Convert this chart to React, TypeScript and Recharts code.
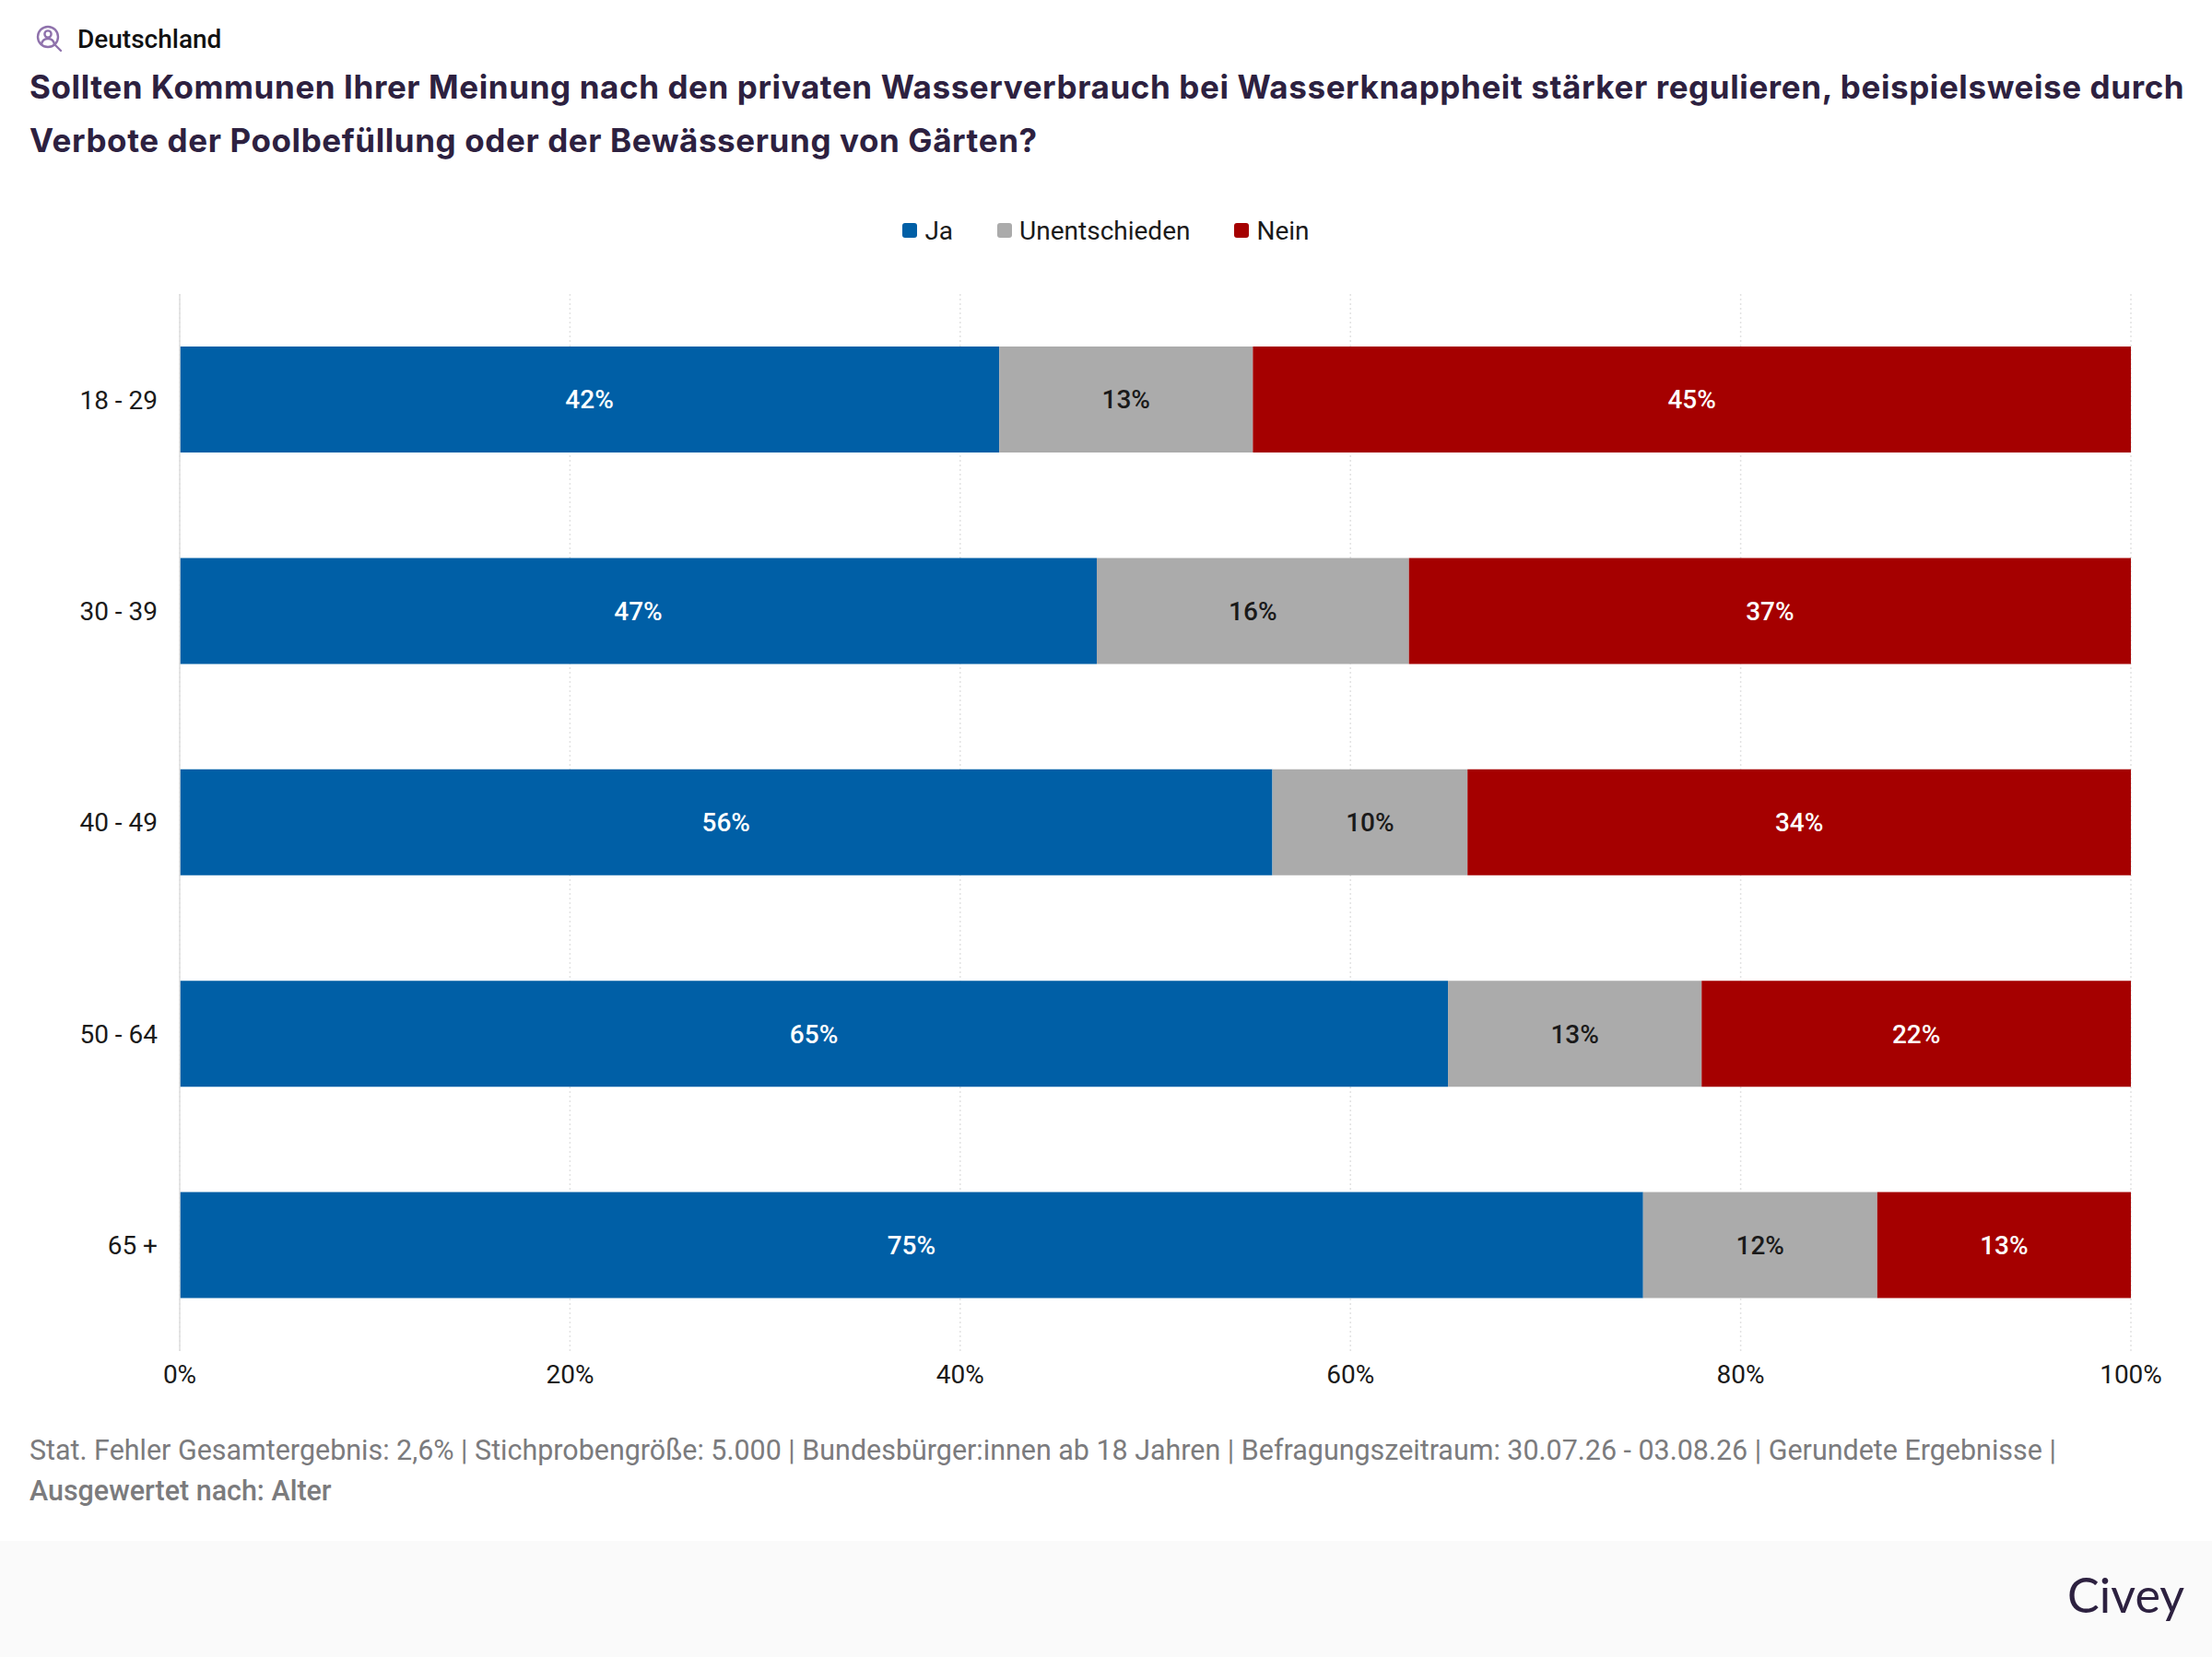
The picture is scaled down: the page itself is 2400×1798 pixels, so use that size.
import React from "react";
import { BarChart, Bar, XAxis, YAxis, CartesianGrid, Legend, LabelList } from "recharts";

const categories = ["18 - 29", "30 - 39", "40 - 49", "50 - 64", "65 +"];
const ja = [42, 47, 56, 65, 75];
const unentschieden = [13, 16, 10, 13, 12];
const nein = [45, 37, 34, 22, 13];
const xTicks = [0, 20, 40, 60, 80, 100];

const data = categories.map((c, i) => ({ c, ja: ja[i], un: unentschieden[i], nein: nein[i] }));

const ROBOTO = "Roboto, sans-serif";
const pct = (v: any) => `${v}%`;

const LegendContent = ({ payload }: any) => (
  <div style={{ height: 108, boxSizing: "border-box", paddingBottom: 30, paddingRight: 7, display: "flex", justifyContent: "center", alignItems: "center", gap: 48, fontFamily: ROBOTO, fontSize: 28, color: "#1a1a1a" }}>
    {(payload || []).map((p: any) => (
      <div key={p.value} style={{ display: "flex", alignItems: "center", gap: 8 }}>
        <span style={{ width: 16, height: 16, borderRadius: 3, background: p.color, display: "inline-block" }} />
        <span>{p.value}</span>
      </div>
    ))}
  </div>
);

const abs = (o: any): any => ({ position: "absolute", whiteSpace: "nowrap", ...o });

export default function App() {
  const tick = { fontFamily: ROBOTO, fontSize: 28, fill: "#1a1a1a" };
  const label = { fontFamily: ROBOTO, fontSize: 28, fontWeight: 500 };
  return (
    <div style={{ position: "absolute", left: 0, top: 0, width: 2400, height: 1798, background: "#fff", overflow: "hidden" }}>
      <svg style={abs({ left: 38, top: 27 })} width="32" height="32" viewBox="0 0 32 32" fill="none" stroke="#8f72ac" strokeWidth="2.4">
        <circle cx="14" cy="13" r="11" />
        <circle cx="14" cy="10" r="3.6" />
        <path d="M7 21c1-5 4-6 7-6s6 1 7 6" />
        <path d="M22 22l6 6" strokeLinecap="round" />
      </svg>
      <div style={abs({ left: 84, top: 25, lineHeight: "36px", fontFamily: ROBOTO, fontSize: 28, fontWeight: 500, color: "#111" })}>Deutschland</div>
      <div style={abs({ left: 32, top: 64.5, lineHeight: "58px", fontFamily: "Inter, sans-serif", fontSize: 35, fontWeight: 700, letterSpacing: 0.6, color: "#2d2140" })}>
        Sollten Kommunen Ihrer Meinung nach den privaten Wasserverbrauch bei Wasserknappheit stärker regulieren, beispielsweise durch
        <br />
        Verbote der Poolbefüllung oder der Bewässerung von Gärten?
      </div>
      <div style={abs({ left: 0, top: 211 })}>
        <BarChart width={2400} height={1315} data={data} layout="vertical" margin={{ top: 0, right: 88, bottom: 0, left: 95 }} barSize={115}>
          <CartesianGrid horizontal={false} stroke="#e2e2e2" strokeWidth={1.5} strokeDasharray="2 3" />
          <XAxis type="number" domain={[0, 100]} ticks={xTicks} tickFormatter={pct} axisLine={false} tickLine={false} tickSize={0} tickMargin={15} height={60} tick={tick} interval={0} />
          <YAxis type="category" dataKey="c" width={100} axisLine={{ stroke: "#dedede", strokeWidth: 1.5 }} tickLine={false} tickSize={0} tickMargin={24} tick={tick} />
          <Legend verticalAlign="top" align="center" itemSorter={null} content={<LegendContent />} />
          <Bar dataKey="ja" name="Ja" stackId="a" fill="#005fa6" isAnimationActive={false}>
            <LabelList dataKey="ja" position="center" formatter={pct} fill="#ffffff" style={label} />
          </Bar>
          <Bar dataKey="un" name="Unentschieden" stackId="a" fill="#ababab" isAnimationActive={false}>
            <LabelList dataKey="un" position="center" formatter={pct} fill="#1a1a1a" style={label} />
          </Bar>
          <Bar dataKey="nein" name="Nein" stackId="a" fill="#a50000" isAnimationActive={false}>
            <LabelList dataKey="nein" position="center" formatter={pct} fill="#ffffff" style={label} />
          </Bar>
        </BarChart>
      </div>
      <div style={abs({ left: 32, top: 1552, lineHeight: "44px", fontFamily: ROBOTO, fontSize: 30.45, color: "#7b7b7d" })}>
        Stat. Fehler Gesamtergebnis: 2,6% | Stichprobengröße: 5.000 | Bundesbürger:innen ab 18 Jahren | Befragungszeitraum: 30.07.26 - 03.08.26 | Gerundete Ergebnisse |
        <br />
        <b style={{ fontWeight: 500 }}>Ausgewertet nach: Alter</b>
      </div>
      <div style={abs({ left: 0, top: 1672, width: 2400, height: 126, background: "#fafafa" })} />
      <div style={abs({ right: 30, top: 1700, lineHeight: "60px", fontFamily: "Lato, sans-serif", fontSize: 52, color: "#2d2140" })}>Civey</div>
    </div>
  );
}
